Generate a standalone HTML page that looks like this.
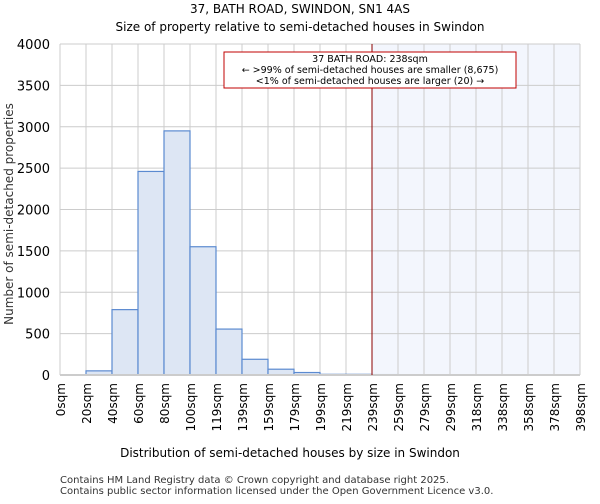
<!DOCTYPE html>
<html><head><meta charset="utf-8"><style>
body{margin:0;background:#fff;font-family:"DejaVu Sans","Liberation Sans",sans-serif;}
svg text{font-family:"DejaVu Sans","Liberation Sans",sans-serif;}
</style></head><body>
<svg id="c" width="600" height="500">
<text x="300" y="13" text-anchor="middle" font-size="12">37, BATH ROAD, SWINDON, SN1 4AS</text>
<text x="300" y="31" text-anchor="middle" font-size="12">Size of property relative to semi-detached houses in Swindon</text>
<g id="plot"></g>
<text x="290" y="457" text-anchor="middle" font-size="12">Distribution of semi-detached houses by size in Swindon</text>
<text transform="translate(13,214) rotate(-90)" text-anchor="middle" font-size="12" fill="#333">Number of semi-detached properties</text>
<text x="60" y="483" font-size="10" fill="#333">Contains HM Land Registry data © Crown copyright and database right 2025.</text>
<text x="60" y="494" font-size="10" fill="#333">Contains public sector information licensed under the Open Government Licence v3.0.</text>
</svg>
<script>
const binLabels=["0sqm","20sqm","40sqm","60sqm","80sqm","100sqm","119sqm","139sqm","159sqm","179sqm","199sqm","219sqm","239sqm","259sqm","279sqm","299sqm","318sqm","338sqm","358sqm","378sqm","398sqm"];
const counts=[0,50,790,2460,2950,1550,555,190,70,30,8,8,5,0,0,0,0,0,0,0];
const yTicks=[0,500,1000,1500,2000,2500,3000,3500,4000];
const markerBin=12;
const ns="http://www.w3.org/2000/svg";
const X0=60,X1=580,Y0=375,Y1=44,YMAX=4000;
const bw=(X1-X0)/counts.length;
const xs=i=>X0+i*bw;
const ys=v=>Y0-(v/YMAX)*(Y0-Y1);
const g=document.getElementById('plot');
function mk(t,a){const e=document.createElementNS(ns,t);for(const k in a)e.setAttribute(k,a[k]);g.appendChild(e);return e;}
let hl=mk('rect',{x:xs(markerBin),y:Y1,width:X1-xs(markerBin),height:Y0-Y1,fill:'#f3f6fd'});


yTicks.forEach(t=>{
 let l=mk('line',{x1:X0,x2:X1,y1:ys(t),y2:ys(t),stroke:'#cccccc'});
 
 
 let tx=mk('text',{x:X0-10,y:ys(t)+5,'text-anchor':'end','font-size':'13'});tx.textContent=t;
 
 
});
binLabels.forEach((lb,i)=>{
 let l=mk('line',{x1:xs(i),x2:xs(i),y1:Y1,y2:Y0,stroke:'#cccccc'});
 
 
 let tx=mk('text',{transform:`translate(${xs(i)+5},${Y0+8}) rotate(-90)`,'text-anchor':'end','font-size':'12'});tx.textContent=lb;
 
 
});
counts.forEach((v,i)=>{
 if(v<=0)return;
 let r=mk('rect',{x:xs(i),y:ys(v),width:bw,height:Y0-ys(v),fill:'#dde6f4',stroke:'#5b8ad0','stroke-width':1.2});
 
 
});
let ax=mk('line',{x1:X0,x2:X1,y1:Y0,y2:Y0,stroke:'#cccccc','stroke-width':2});


let ml=mk('line',{x1:xs(markerBin),x2:xs(markerBin),y1:Y1,y2:Y0,stroke:'#8b0000','stroke-width':1});


let box=mk('rect',{x:224,y:52,width:292,height:36,fill:'#fff',stroke:'#c00000','stroke-width':1});


["37 BATH ROAD: 238sqm","← >99% of semi-detached houses are smaller (8,675)","<1% of semi-detached houses are larger (20) →"].forEach((s,k)=>{
 let t=mk('text',{x:370,y:62+k*11,'text-anchor':'middle','font-size':'9.5'});t.textContent=s;
 
 
});
</script>
</body></html>
